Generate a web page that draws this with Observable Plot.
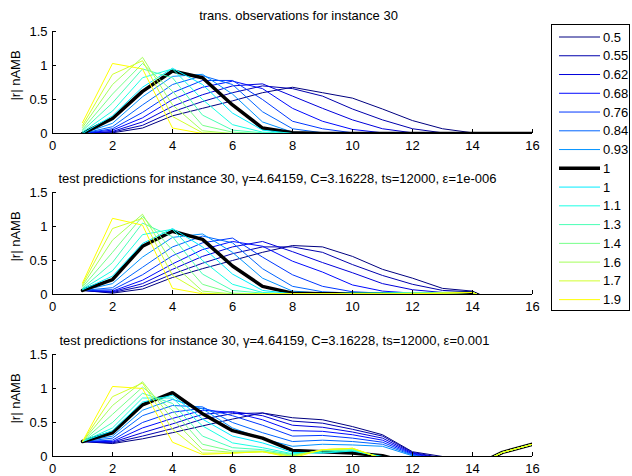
<!DOCTYPE html>
<html><head><meta charset="utf-8">
<script src="https://cdn.jsdelivr.net/npm/d3@7"></script>
<script src="https://cdn.jsdelivr.net/npm/@observablehq/plot@0.6"></script>
<style>
body{margin:0;background:#fff;}
#fig{position:relative;width:632px;height:476px;overflow:hidden;font-family:"Liberation Sans",Arial,sans-serif;background:#fff;}
.panel{position:absolute;left:0;}
#legend{position:absolute;left:551px;top:24px;}
</style></head><body><div id="fig"></div>
<script>
const xValues = [1,2,3,4,5,6,7,8,9,10,11,12,13,14,15,16];
const xTicks = [0,2,4,6,8,10,12,14,16];
const yTicks = [0,0.5,1,1.5];
const seriesLabels = ["0.5","0.55","0.62","0.68","0.76","0.84","0.93","1","1","1.1","1.3","1.4","1.6","1.7","1.9"];
const seriesColors = ["#000080","#0000AD","#0000DB","#0009FF","#0037FF","#0064FF","#0092FF","#000000","#00EDFF","#1BFFE4","#49FFB6","#76FF89","#A4FF5B","#D1FF2E","#FFFF00"];
const blackIndex = 7;
const titles = [
  "trans. observations for instance 30",
  "test predictions for instance 30, \u03b3=4.64159, C=3.16228, ts=12000, \u03b5=1e-006",
  "test predictions for instance 30, \u03b3=4.64159, C=3.16228, ts=12000, \u03b5=0.001"
];
const yLabel = "|r| nAMB";

const observations = [
  [0,0.01,0.08,0.26,0.37,0.48,0.6,0.68,0.6,0.52,0.36,0.19,0.07,0.01,0,0],
  [0,0.02,0.12,0.32,0.47,0.6,0.7,0.66,0.55,0.36,0.2,0.07,0.01,0,0,0],
  [0,0.03,0.17,0.4,0.57,0.7,0.73,0.55,0.37,0.2,0.07,0.01,0,0,0,0],
  [0,0.05,0.23,0.5,0.68,0.77,0.66,0.37,0.18,0.06,0.01,0,0,0,0,0],
  [0,0.07,0.31,0.6,0.78,0.78,0.5,0.18,0.07,0.01,0,0,0,0,0,0],
  [0,0.1,0.42,0.72,0.85,0.72,0.32,0.07,0.01,0,0,0,0,0,0,0],
  [0,0.15,0.54,0.84,0.87,0.58,0.17,0.02,0,0,0,0,0,0,0,0],
  [0,0.22,0.62,0.92,0.82,0.42,0.08,0.01,0,0,0,0,0,0,0,0],
  [0,0.26,0.68,0.96,0.72,0.3,0.05,0,0,0,0,0,0,0,0,0],
  [0.02,0.33,0.82,0.95,0.5,0.13,0.02,0,0,0,0,0,0,0,0,0],
  [0.04,0.45,0.95,0.82,0.27,0.05,0.01,0,0,0,0,0,0,0,0,0],
  [0.06,0.58,1.03,0.62,0.12,0.02,0,0,0,0,0,0,0,0,0,0],
  [0.09,0.72,1.12,0.42,0.04,0,0,0,0,0,0,0,0,0,0,0],
  [0.12,0.87,1.07,0.25,0.01,0,0,0,0,0,0,0,0,0,0,0],
  [0.16,1.03,0.95,0.08,0,0,0,0,0,0,0,0,0,0,0,0]
];
const predictionsEps6 = [
  [0.06,0.02,0.08,0.25,0.38,0.5,0.62,0.72,0.70,0.56,0.37,0.24,0.09,0.05,-0.15,-0.1],
  [0.06,0.03,0.12,0.3,0.46,0.6,0.7,0.7,0.62,0.44,0.28,0.15,0.06,0.04,-0.15,-0.1],
  [0.06,0.04,0.16,0.37,0.56,0.7,0.78,0.63,0.47,0.32,0.16,0.07,0.03,0.03,-0.15,-0.1],
  [0.06,0.05,0.21,0.45,0.66,0.78,0.71,0.49,0.33,0.14,0.05,0.02,0.02,0.03,-0.15,-0.1],
  [0.06,0.07,0.29,0.57,0.76,0.83,0.55,0.29,0.12,0.04,0.02,0.02,0.02,0.03,-0.15,-0.1],
  [0.06,0.1,0.4,0.7,0.86,0.76,0.38,0.12,0.04,0.02,0.02,0.02,0.02,0.03,-0.15,-0.1],
  [0.06,0.16,0.55,0.84,0.89,0.62,0.24,0.05,0.02,0.02,0.02,0.02,0.02,0.03,-0.15,-0.1],
  [0.06,0.22,0.71,0.93,0.81,0.42,0.12,0.02,0.01,0.01,0.01,0.01,0.01,0.02,-0.15,-0.1],
  [0.07,0.27,0.75,0.97,0.7,0.3,0.06,0.01,0.01,0.02,0.02,0.03,0.03,0.03,-0.15,-0.1],
  [0.08,0.35,0.88,0.96,0.5,0.15,0.03,0.01,0.01,0.02,0.02,0.02,0.03,0.03,-0.15,-0.1],
  [0.09,0.47,1.05,0.85,0.3,0.06,0.02,0.01,0.01,0.01,0.02,0.02,0.02,0.03,-0.15,-0.1],
  [0.11,0.62,1.15,0.65,0.15,0.02,0.01,0.01,0.01,0.01,0.01,0.02,0.02,0.03,-0.15,-0.1],
  [0.13,0.8,1.18,0.45,0.05,0.01,0.01,0.01,0.01,0.01,0.01,0.02,0.02,0.03,-0.15,-0.1],
  [0.15,0.97,1.12,0.28,0.02,0,0.01,0.01,0.01,0.01,0.01,0.01,0.02,0.03,-0.15,-0.1],
  [0.17,1.12,1.02,0.09,0.01,0,0.01,0.01,0.01,0.01,0.01,0.01,0.02,0.03,-0.15,-0.1]
];
const predictionsEps3 = [
  [0.22,0.19,0.26,0.35,0.45,0.55,0.64,0.57,0.54,0.44,0.32,0.07,0,-0.15,0.06,0.18],
  [0.22,0.2,0.3,0.41,0.55,0.63,0.64,0.52,0.49,0.4,0.3,0.06,-0.02,-0.15,0.06,0.18],
  [0.22,0.21,0.35,0.48,0.62,0.66,0.6,0.46,0.43,0.36,0.27,0.05,-0.03,-0.15,0.06,0.18],
  [0.22,0.22,0.42,0.56,0.68,0.65,0.54,0.38,0.37,0.32,0.24,0.04,-0.04,-0.15,0.06,0.18],
  [0.22,0.24,0.5,0.65,0.71,0.6,0.46,0.3,0.31,0.27,0.21,0.03,-0.05,-0.15,0.06,0.18],
  [0.22,0.27,0.6,0.75,0.73,0.5,0.35,0.22,0.24,0.22,0.18,0.02,-0.06,-0.15,0.06,0.18],
  [0.22,0.3,0.68,0.84,0.7,0.42,0.26,0.15,0.18,0.17,0.15,0.01,-0.08,-0.15,0.06,0.18],
  [0.22,0.35,0.76,0.94,0.63,0.38,0.27,0.09,0.07,0.05,0.01,-0.1,-0.15,-0.15,0.06,0.18],
  [0.22,0.38,0.8,0.9,0.55,0.3,0.2,0.06,0.05,0.08,0,-0.1,-0.15,-0.15,0.06,0.18],
  [0.22,0.42,0.86,0.86,0.45,0.2,0.13,0.04,0.06,0.09,-0.01,-0.1,-0.15,-0.15,0.06,0.18],
  [0.22,0.5,0.93,0.78,0.3,0.13,0.1,0.03,0.08,0.1,-0.02,-0.1,-0.15,-0.15,0.06,0.18],
  [0.22,0.62,1.02,0.68,0.18,0.08,0.08,0.02,0.09,0.11,-0.02,-0.1,-0.15,-0.15,0.06,0.18],
  [0.22,0.75,1.1,0.55,0.1,0.06,0.07,0.01,0.1,0.12,-0.03,-0.1,-0.15,-0.15,0.06,0.18],
  [0.22,0.88,1.08,0.4,0.05,0.05,0.07,0,0.1,0.12,-0.03,-0.1,-0.15,-0.15,0.06,0.18],
  [0.22,1.03,1.0,0.21,0.03,0.05,0.07,-0.02,0.1,0.12,-0.03,-0.1,-0.15,-0.15,0.06,0.18]
];

const fig = document.getElementById("fig");
const W = 632, H = 150, mL = 52, mR = 100, mT = 31, mB = 17;
const innerW = W - mL - mR, innerH = H - mT - mB;
const seriesKeys = seriesLabels.map((_, i) => i);

function panel(values, title, top, titleDx, titleDy) {
  const rows = [];
  values.forEach((vals, i) => vals.forEach((v, j) => rows.push({key: i, x: xValues[j], y: v})));
  const lineMarks = seriesKeys.map(k => Plot.line(rows.filter(r => r.key === k), {
    x: "x", y: "y", stroke: "key", strokeWidth: k === blackIndex ? 3.5 : 1, clip: true, strokeLinejoin: "miter"
  }));
  const svg = Plot.plot({
    width: W, height: H, marginLeft: mL, marginRight: mR, marginTop: mT, marginBottom: mB,
    style: {fontFamily: "'Liberation Sans', Arial, sans-serif", fontSize: "13px", color: "#000", background: "transparent", overflow: "visible"},
    x: {domain: [0, 16]},
    y: {domain: [0, 1.5]},
    color: {type: "ordinal", domain: seriesKeys, range: seriesColors},
    marks: [
      ...lineMarks,
      Plot.ruleY([0], {stroke: "#000"}),
      Plot.ruleX([0], {stroke: "#000"}),
      Plot.ruleX(xTicks, {x: d => d, insetTop: innerH - 4, stroke: "#000"}),
      Plot.ruleY(yTicks, {y: d => d, insetRight: innerW - 4, stroke: "#000"}),
      Plot.axisX(xTicks, {tickSize: 0, tickPadding: 7, label: null, tickFormat: d => String(d)}),
      Plot.axisY(yTicks, {tickSize: 0, tickPadding: 5, label: null, tickFormat: d => String(d)}),
      Plot.text([title], {frameAnchor: "top", text: d => d, dx: titleDx, dy: titleDy, textAnchor: "middle", lineAnchor: "middle", fill: "#000"}),
      Plot.text([yLabel], {frameAnchor: "left", text: d => d, dx: -37, dy: -7, rotate: -90, textAnchor: "middle", lineAnchor: "middle", fill: "#000"})
    ]
  });
  svg.classList.add("panel");
  svg.style.top = top + "px";
  fig.appendChild(svg);
}

panel(observations, titles[0], 0, 6, -16);
panel(predictionsEps6, titles[1], 161, -15, -14);
panel(predictionsEps3, titles[2], 323, -18, -14);

// legend
const lg = d3.select(fig).append("svg").attr("id", "legend").attr("width", 80).attr("height", 288);
lg.append("rect").attr("x", 0.5).attr("y", 0.5).attr("width", 78).attr("height", 286).attr("fill", "#fff").attr("stroke", "#000");
seriesLabels.forEach((lab, i) => {
  const cy = 13 + i * 18.76;
  lg.append("line").attr("x1", 8).attr("x2", 49).attr("y1", cy).attr("y2", cy)
    .attr("stroke", seriesColors[i]).attr("stroke-width", i === blackIndex ? 3.5 : 1);
  lg.append("text").attr("x", 52).attr("y", cy).attr("dy", "0.35em")
    .attr("font-family", "'Liberation Sans', Arial, sans-serif").attr("font-size", 13).text(lab);
});
</script></body></html>
